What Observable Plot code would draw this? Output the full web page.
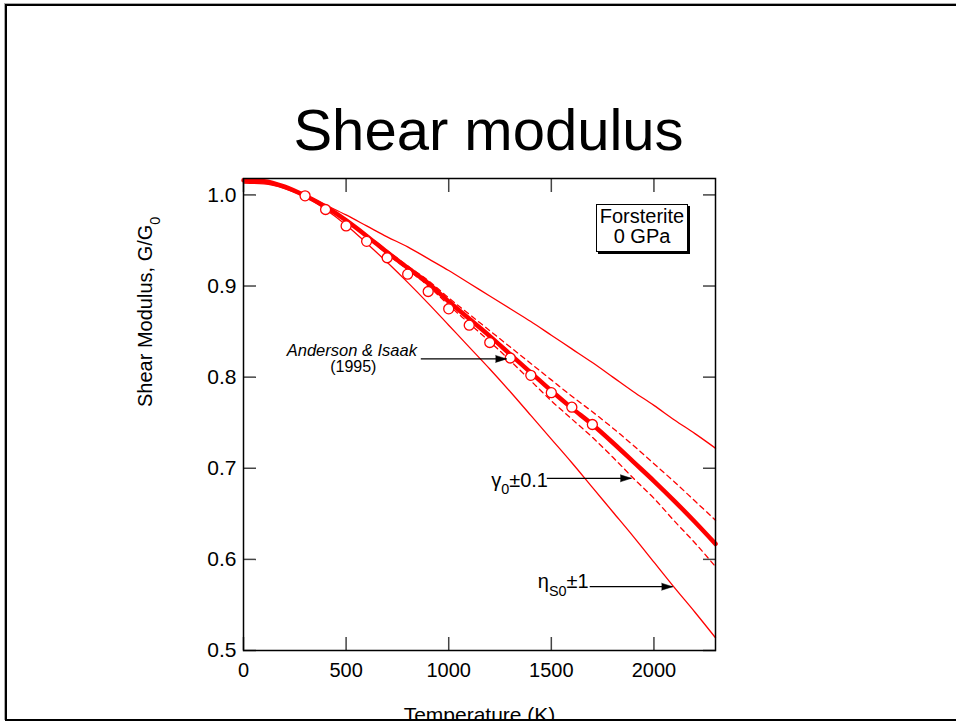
<!DOCTYPE html>
<html><head><meta charset="utf-8">
<script src="https://cdn.jsdelivr.net/npm/d3@7"></script>
<script src="https://cdn.jsdelivr.net/npm/@observablehq/plot@0.6"></script>
<style>
html,body{margin:0;padding:0;background:#fff;}
body{width:956px;height:723px;position:relative;overflow:hidden;font-family:"Liberation Sans",Arial,Helvetica,sans-serif;color:#000;}
#slide{position:absolute;left:5px;top:4px;width:1000px;height:713px;border:2px solid #000;box-shadow:-1px -1px 0 #aaa;z-index:3;pointer-events:none;}
#below{position:absolute;left:0;top:721px;width:956px;height:2px;background:#fff;z-index:2;}
#title{position:absolute;left:0;width:977px;top:101px;text-align:center;font-size:58px;line-height:58px;z-index:1;}
#chart{position:absolute;left:0;top:0;}
#box{position:absolute;left:596px;top:204px;width:90px;padding:1px 0 5px 0;border:1px solid #000;box-shadow:2px 2px 0 #000;background:#fff;text-align:center;font-size:20px;line-height:20px;z-index:1;}
</style>
</head><body>
<div id="title">Shear modulus</div>
<div id="chart"></div>
<div id="box">Forsterite<br>0 GPa</div>
<div id="slide"></div>
<div id="below"></div>
<script>
// Temperature grid (K)
const T = [0,100,200,300,400,500,600,700,800,900,1000,1100,1200,1300,1400,1500,1600,1700,1800,1900,2000,2100,2200,2300];
// Reference model (thick line)
const gModel = [1.016,1.015,1.009,0.999,0.987,0.972,0.955,0.937,0.920,0.903,0.883,0.864,0.845,0.825,0.805,0.785,0.766,0.748,0.728,0.707,0.686,0.664,0.641,0.617];
// gamma0 +/- 0.1 (dashed)
const gGammaHi = [1.016,1.015,1.009,0.999,0.987,0.972,0.956,0.939,0.922,0.906,0.887,0.869,0.851,0.833,0.815,0.797,0.779,0.762,0.744,0.725,0.705,0.685,0.664,0.643];
const gGammaLo = [1.016,1.015,1.009,0.999,0.987,0.972,0.954,0.935,0.918,0.900,0.879,0.859,0.839,0.818,0.796,0.774,0.754,0.734,0.712,0.689,0.667,0.642,0.618,0.592];
// etaS0 +/- 1 (thin solid)
const gEtaHi = [1.014,1.013,1.009,1.000,0.989,0.978,0.966,0.954,0.943,0.930,0.917,0.903,0.889,0.875,0.861,0.846,0.831,0.816,0.800,0.784,0.769,0.753,0.738,0.722];
const gEtaLo = [1.013,1.012,1.007,0.998,0.984,0.967,0.947,0.926,0.904,0.881,0.857,0.833,0.809,0.784,0.758,0.732,0.706,0.679,0.652,0.625,0.597,0.569,0.542,0.514];
// Anderson & Isaak (1995) data
const expT = [300,400,500,600,700,800,900,1000,1100,1200,1300,1400,1500,1600,1700];
const expG = [0.999,0.984,0.966,0.949,0.931,0.913,0.894,0.875,0.857,0.838,0.821,0.802,0.783,0.767,0.748];
// Axis ticks
const xTicks = [0,500,1000,1500,2000];
const yTicks = [0.5,0.6,0.7,0.8,0.9,1.0];
// Annotations
const noteLabels = ["Anderson & Isaak","(1995)","γ_0±0.1","η_{S0}±1"];
const noteT = [528,535,1207,1434];
const noteG = [0.829,0.811,0.687,0.576];
const arrowT1 = [864,1478,1687];
const arrowT2 = [1282,1890,2091];
const arrowG = [0.820,0.689,0.570];

const series = (g) => T.map((t,i)=>({T:t,G:g[i]}));
const exp = expT.map((t,i)=>({T:t,G:expG[i]}));
const notes = noteLabels.map((s,i)=>({label:s,T:noteT[i],G:noteG[i]}));
const arrows = arrowT1.map((t,i)=>({T1:t,T2:arrowT2[i],G:arrowG[i]}));
const RED = "#ff0000";

const chart = Plot.plot({
  width: 956, height: 723,
  marginLeft: 243, marginRight: 241, marginTop: 178, marginBottom: 73,
  x: {domain: [0,2300]},
  y: {domain: [0.5,1.018]},
  style: {fontFamily: "'Liberation Sans', Arial, sans-serif", fontSize: "20px", background: "transparent", overflow: "visible"},
  marks: [
    Plot.line(series(gEtaHi), {x:"T", y:"G", stroke:RED, strokeWidth:1.3, curve:"monotone-x"}),
    Plot.line(series(gEtaLo), {x:"T", y:"G", stroke:RED, strokeWidth:1.3, curve:"monotone-x"}),
    Plot.line(series(gGammaHi), {x:"T", y:"G", stroke:RED, strokeWidth:1.3, strokeDasharray:"5,4", curve:"monotone-x"}),
    Plot.line(series(gGammaLo), {x:"T", y:"G", stroke:RED, strokeWidth:1.3, strokeDasharray:"5,4", curve:"monotone-x"}),
    Plot.line(series(gModel), {x:"T", y:"G", stroke:RED, strokeWidth:4.5, curve:"monotone-x"}),
    Plot.dot(exp, {x:"T", y:"G", r:5, stroke:RED, fill:"white", strokeWidth:1.3}),
    Plot.axisX({anchor:"bottom", ticks:xTicks, tickSize:-13, tickPadding:25, stroke:"#444", strokeWidth:1.5, fontSize:20, tickFormat:"d", label:null}),
    Plot.axisX({anchor:"top", ticks:xTicks, tickSize:-13, stroke:"#444", strokeWidth:1.5, fill:"none", label:null}),
    Plot.axisY({anchor:"left", ticks:yTicks, tickSize:-13, tickPadding:20, stroke:"#444", strokeWidth:1.5, fontSize:21, tickFormat:".1f", label:null}),
    Plot.axisY({anchor:"right", ticks:yTicks, tickSize:-13, stroke:"#444", strokeWidth:1.5, fill:"none", label:null}),
    Plot.frame({stroke:"#000", strokeWidth:1.5}),
    Plot.link(arrows, {x1:"T1", y1:"G", x2:"T2", y2:"G", stroke:"#000", strokeWidth:1.2}),
    Plot.vector(arrows, {x:"T2", y:"G", length:11, rotate:90, anchor:"end", shape:"spike", r:3.5, fill:"#000", stroke:"#000", strokeWidth:0.5}),
    Plot.text(notes.slice(0,1), {x:"T", y:"G", text:"label", fontStyle:"italic", fontSize:16.5}),
    Plot.text(notes.slice(1,2), {x:"T", y:"G", text:"label", fontSize:16}),
    Plot.text(notes.slice(2), {x:"T", y:"G", text:"label", fontSize:20, textAnchor:"start"}),
    Plot.text(["Shear Modulus, G/G_0"], {frameAnchor:"left", rotate:-90, dx:-98, dy:-7.5, fontSize:20}),
    Plot.text(["Temperature (K)"], {frameAnchor:"bottom", dy:57, lineAnchor:"top", fontSize:21})
  ]
});

// render subscripts written as _x or _{xy}
d3.select(chart).selectAll("text").each(function(){
  const s = this.textContent;
  if (!s.includes("_") || this.querySelector("tspan")) return;
  const parts = s.split(/(_\{[^}]*\}|_.)/).filter(Boolean);
  this.textContent = "";
  const el = d3.select(this);
  for (const p of parts) {
    if (p.startsWith("_")) {
      const sub = p.startsWith("_{") ? p.slice(2,-1) : p.slice(1);
      el.append("tspan").attr("baseline-shift","sub").attr("font-size","72%").text(sub);
    } else {
      el.append("tspan").text(p);
    }
  }
});

document.getElementById("chart").appendChild(chart);
</script>
</body></html>
